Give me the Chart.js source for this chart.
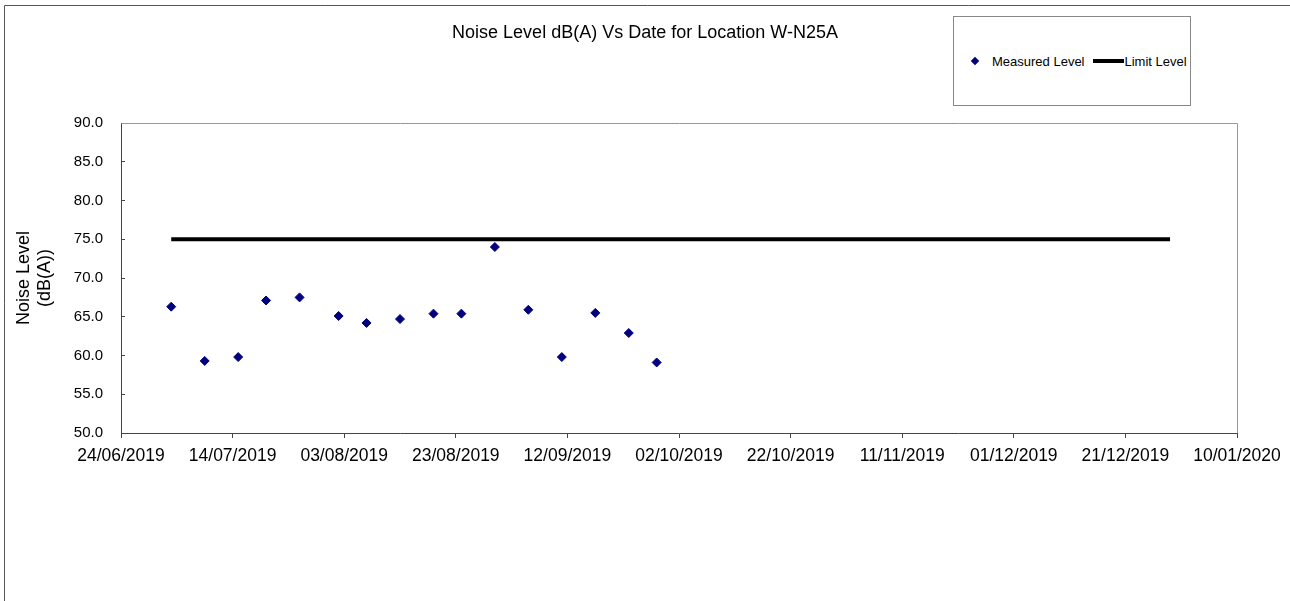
<!DOCTYPE html>
<html>
<head>
<meta charset="utf-8">
<title>Noise Level dB(A) Vs Date for Location W-N25A</title>
<script src="https://cdn.jsdelivr.net/npm/chart.js@4.4.1/dist/chart.umd.min.js"></script>
<style>
    html, body { margin: 0; padding: 0; background: #fff; }
    #wrap { position: relative; width: 1290px; height: 601px; }
    #legend {
        position: absolute; left: 953px; top: 16px; width: 238px; height: 90px;
        box-sizing: border-box; border: 1px solid #888; background: #fff;
        display: flex; align-items: center; padding-left: 17px;
        font: 13px 'Liberation Sans', Arial, sans-serif; color: #000; white-space: nowrap;
    }
    #legend .dot { width: 6px; height: 6px; background: #000080; transform: rotate(45deg); margin: 0 14px 0 1px; }
    #legend .bar { width: 31px; height: 4px; background: #000; margin: 0 1px 0 8px; }
</style>
</head>
<body>
<div id="wrap">
    <canvas id="chart" width="1290" height="601"></canvas>
    <div id="legend"></div>
</div>
<script>
const FONT = "'Liberation Sans', Arial, sans-serif"

// x axis runs in days counted from this date
const ORIGIN = '24/06/2019'
const X_SPAN = 200
const X_STEP = 20

const Y_MIN = 50
const Y_MAX = 90
const Y_STEP = 5

// measured noise levels, dB(A)
const measuredDates = [
    '03/07/2019', '09/07/2019', '15/07/2019', '20/07/2019', '26/07/2019',
    '02/08/2019', '07/08/2019', '13/08/2019', '19/08/2019', '24/08/2019',
    '30/08/2019', '05/09/2019', '11/09/2019', '17/09/2019', '23/09/2019',
    '28/09/2019'
]
const measuredValues = [
    66.3, 59.3, 59.8, 67.1, 67.5,
    65.1, 64.2, 64.7, 65.4, 65.4,
    74.0, 65.9, 59.8, 65.5, 62.9,
    59.1
]

// limit line
const limitDates = ['03/07/2019', '29/12/2019']
const limitValues = [75, 75]

const DAY = 86400000

function toUTC(s) {
    const [d, m, y] = s.split('/').map(Number)
    return Date.UTC(y, m - 1, d)
}

function toDay(s) {
    return Math.round((toUTC(s) - toUTC(ORIGIN)) / DAY)
}

function pad(n) {
    return n < 10 ? '0' + n : '' + n
}

function dayLabel(v) {
    const d = new Date(toUTC(ORIGIN) + v * DAY)
    return pad(d.getUTCDate()) + '/' + pad(d.getUTCMonth() + 1) + '/' + d.getUTCFullYear()
}

function points(dates, values) {
    return dates.map((s, i) => ({ x: toDay(s), y: values[i] }))
}

// outer frame and the top/right edges of the plot area
const frame = {
    id: 'frame',
    beforeDraw(chart) {
        const ctx = chart.ctx
        ctx.save()
        ctx.lineWidth = 1
        ctx.strokeStyle = '#555'
        ctx.beginPath()
        ctx.moveTo(4.5, chart.height)
        ctx.lineTo(4.5, 5.5)
        ctx.lineTo(chart.width, 5.5)
        ctx.stroke()
        ctx.restore()
    },
    afterDatasetsDraw(chart) {
        const { ctx, chartArea: a } = chart
        ctx.save()
        ctx.lineWidth = 1
        ctx.strokeStyle = '#999'
        ctx.beginPath()
        ctx.moveTo(Math.round(a.left) + 0.5, Math.round(a.top) + 0.5)
        ctx.lineTo(Math.round(a.right) + 0.5, Math.round(a.top) + 0.5)
        ctx.lineTo(Math.round(a.right) + 0.5, Math.round(a.bottom))
        ctx.stroke()
        ctx.restore()
    }
}

const chart = new Chart('chart', {
    type: 'scatter',
    data: {
        datasets: [{
            label: 'Measured Level',
            data: points(measuredDates, measuredValues),
            pointStyle: 'rectRot',
            pointRadius: 4.5,
            backgroundColor: '#000080',
            borderColor: '#000080',
            borderWidth: 1,
            showLine: false
        },
        {
            label: 'Limit Level',
            data: points(limitDates, limitValues),
            showLine: true,
            borderColor: '#000',
            borderWidth: 4,
            pointRadius: 0
        }]
    },
    options: {
        responsive: false,
        animation: false,
        devicePixelRatio: 1,
        layout: { padding: 0 },
        plugins: {
            legend: { display: false },
            tooltip: { enabled: false },
            title: {
                display: true,
                text: 'Noise Level dB(A) Vs Date for Location W-N25A',
                color: '#000',
                font: { family: FONT, size: 18, weight: 'normal' },
                padding: { top: 22, bottom: 79.4 }
            }
        },
        scales: {
            x: {
                type: 'linear',
                min: 0,
                max: X_SPAN,
                afterFit: (s) => { s.height = 168 },
                border: { display: true, color: '#444', width: 1 },
                grid: { display: true, drawOnChartArea: false, tickLength: 5, color: '#444' },
                ticks: {
                    stepSize: X_STEP,
                    autoSkip: false,
                    maxRotation: 0,
                    padding: 8,
                    color: '#000',
                    font: { family: FONT, size: 17.5 },
                    callback: (v) => dayLabel(v)
                }
            },
            y: {
                min: Y_MIN,
                max: Y_MAX,
                afterFit: (s) => { s.width = 121 },
                border: { display: true, color: '#444', width: 1 },
                grid: { display: true, drawOnChartArea: false, tickLength: -4, color: '#444' },
                ticks: {
                    stepSize: Y_STEP,
                    padding: 22,
                    color: '#000',
                    font: { family: FONT, size: 15 },
                    callback: (v) => v.toFixed(1)
                },
                title: {
                    display: true,
                    text: ['Noise Level', '(dB(A))'],
                    color: '#000',
                    font: { family: FONT, size: 18 },
                    padding: { top: 13, bottom: 0 }
                }
            },
            // empty right-hand margin so the title centres on the whole canvas
            gap: {
                position: 'right',
                afterFit: (s) => { s.width = 53 },
                border: { display: false },
                grid: { display: false },
                ticks: { display: false }
            }
        }
    },
    plugins: [frame]
})

// legend built from the chart's own datasets
const legendEl = document.getElementById('legend')
chart.data.datasets.forEach((ds) => {
    const mark = document.createElement('span')
    mark.className = ds.showLine ? 'bar' : 'dot'
    const text = document.createElement('span')
    text.textContent = ds.label
    legendEl.appendChild(mark)
    legendEl.appendChild(text)
})
</script>
</body>
</html>
